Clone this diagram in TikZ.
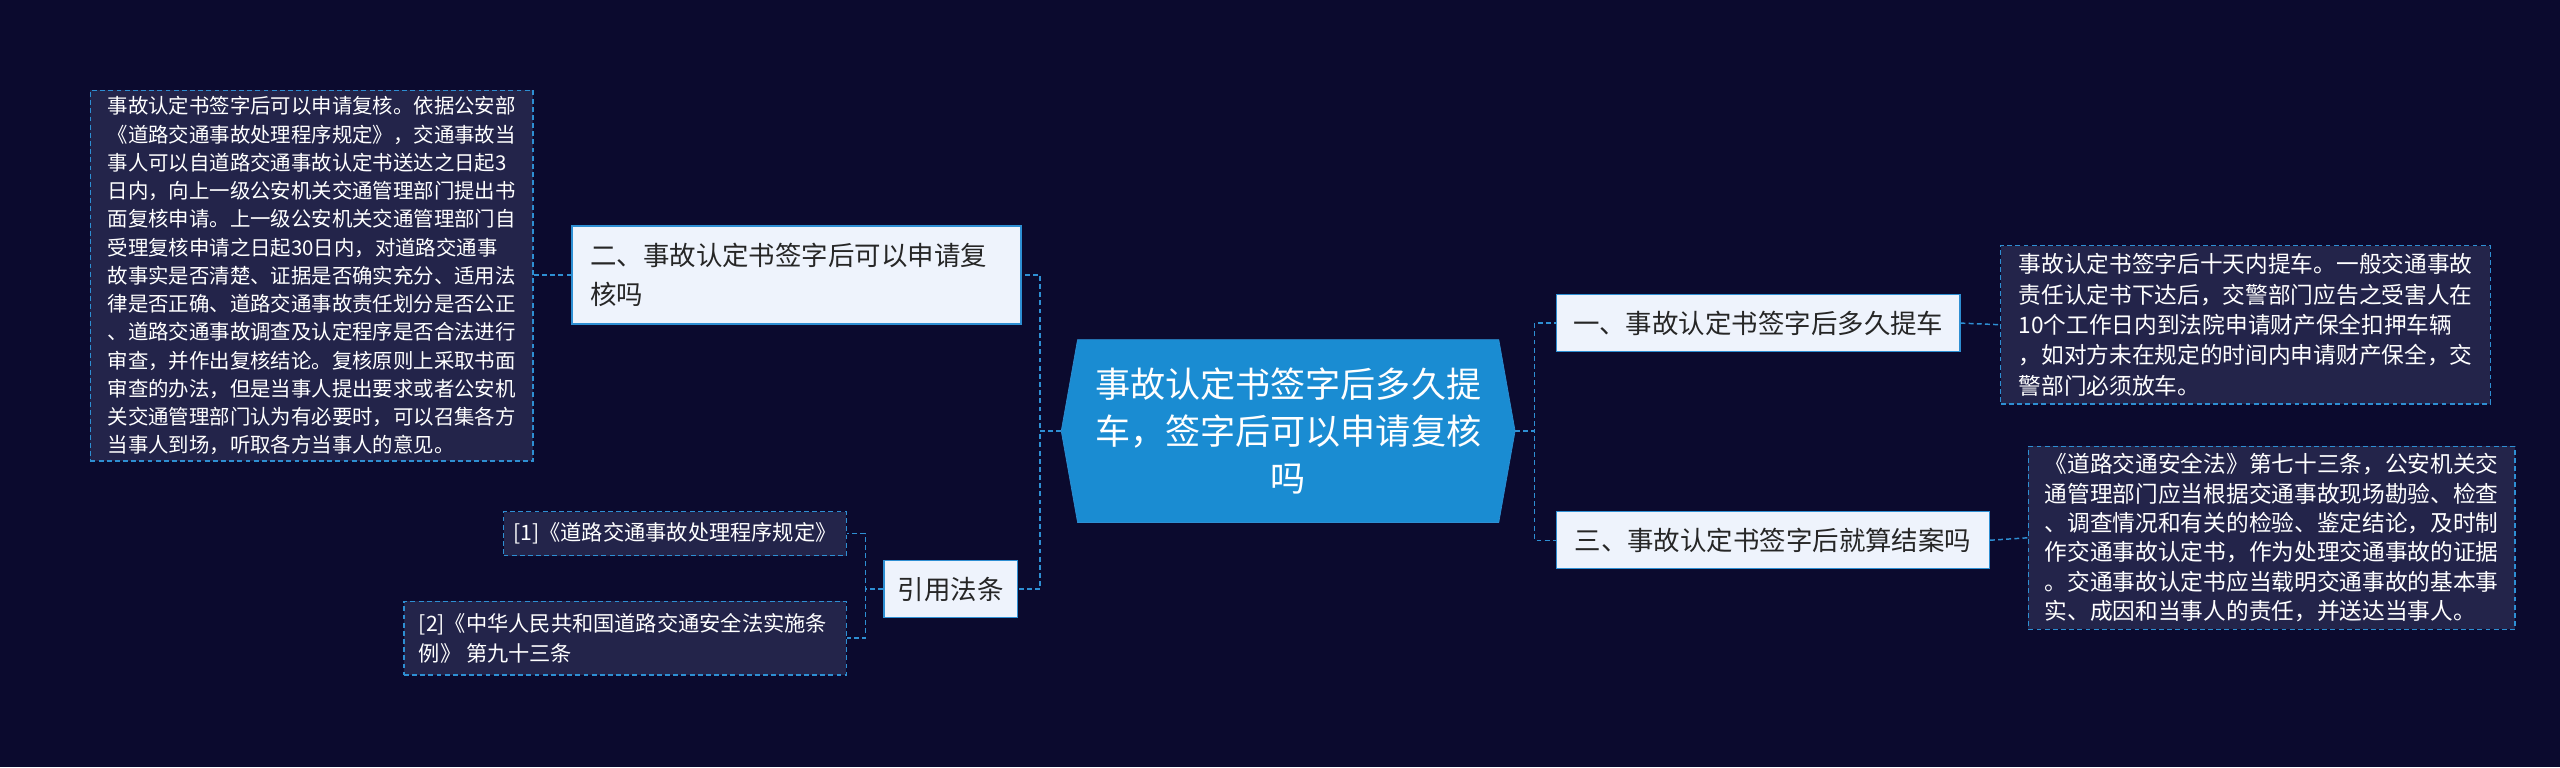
\documentclass[tikz,border=0pt]{standalone}
\usepackage{fontspec}
\setmainfont{Noto Sans CJK SC}
\begin{document}
\begin{tikzpicture}[x=1pt,y=-1pt,
  lk/.style={draw=lkc,dashed,line width=0.9pt,dash pattern=on 3pt off 2pt},
  mid/.style={draw=lkc,line width=0.8pt,fill=midfill,text=black!85,font=\fontsize{15}{22}\selectfont,inner sep=0pt,anchor=north west,align=left},
  leaf/.style={draw=lkc,dashed,dash pattern=on 3pt off 2pt,line width=0.8pt,fill=leaffill,text=white,font=\fontsize{12.3}{17.6}\selectfont,inner sep=0pt,anchor=north west,align=left}]
\definecolor{bg}{HTML}{0B0A2E}
\definecolor{lkc}{HTML}{2E8FD3}
\definecolor{midfill}{HTML}{EEF3FC}
\definecolor{leaffill}{HTML}{23244A}
\definecolor{ctr}{HTML}{1A8CD2}
\fill[bg] (0,0) rectangle (1568,470);
\useasboundingbox (0,0) rectangle (1568,470);
% center
\fill[ctr,draw=lkc] (660,208)--(918,208)--(928,264)--(918,320)--(660,320)--(650,264)--cycle;
\node[text=white,align=center,font=\fontsize{21.5}{29}\selectfont] (c) at (789,264) {事故认定书签字后多久提\\车，签字后可以申请复核\\吗};
\coordinate (cr) at (928,264); \coordinate (cl) at (650,264);
% mid boxes
\path (953,180) node[mid,minimum width=247,minimum height=35] (r1) {};
\node[text=black!85,font=\fontsize{16.2}{22}\selectfont] at (r1.center) {一、事故认定书签字后多久提车};
\path (953,313) node[mid,minimum width=265,minimum height=35] (r2) {};
\node[text=black!85,font=\fontsize{16.2}{22}\selectfont] at (r2.center) {三、事故认定书签字后就算结案吗};
\path (350,138) node[mid,minimum width=275,minimum height=60] (l1) {};
\node[text=black!85,font=\fontsize{16.2}{24}\selectfont,align=left,anchor=west] at ([xshift=8]l1.west) {二、事故认定书签字后可以申请复\\核吗};
\path (541,343) node[mid,minimum width=82,minimum height=35] (l2) {};
\node[text=black!85,font=\fontsize{16.2}{22}\selectfont] at (l2.center) {引用法条};
% leaves
\path (1225,150) node[leaf,minimum width=300,minimum height=97] (r1a) {};
\node[text=white,font=\fontsize{13.9}{18.6}\selectfont,align=left] at (r1a.center) {事故认定书签字后十天内提车。一般交通事故\\责任认定书下达后，交警部门应告之受害人在\\10个工作日内到法院申请财产保全扣押车辆\\，如对方未在规定的时间内申请财产保全，交\\警部门必须放车。};
\path (1242,273) node[leaf,minimum width=298,minimum height=112] (r2a) {};
\node[text=white,font=\fontsize{13.9}{18}\selectfont,align=left] at (r2a.center) {《道路交通安全法》第七十三条，公安机关交\\通管理部门应当根据交通事故现场勘验、检查\\、调查情况和有关的检验、鉴定结论，及时制\\作交通事故认定书，作为处理交通事故的证据\\。交通事故认定书应当载明交通事故的基本事\\实、成因和当事人的责任，并送达当事人。};
\path (55,55) node[leaf,minimum width=271,minimum height=227] (l1a) {};
\node[text=white,font=\fontsize{12.5}{17.3}\selectfont,align=left] at (l1a.center) {事故认定书签字后可以申请复核。依据公安部\\《道路交通事故处理程序规定》，交通事故当\\事人可以自道路交通事故认定书送达之日起3\\日内，向上一级公安机关交通管理部门提出书\\面复核申请。上一级公安机关交通管理部门自\\受理复核申请之日起30日内，对道路交通事\\故事实是否清楚、证据是否确实充分、适用法\\律是否正确、道路交通事故责任划分是否公正\\、道路交通事故调查及认定程序是否合法进行\\审查，并作出复核结论。复核原则上采取书面\\审查的办法，但是当事人提出要求或者公安机\\关交通管理部门认为有必要时，可以召集各方\\当事人到场，听取各方当事人的意见。};
\path (308,313) node[leaf,minimum width=210,minimum height=27] (l2a) {};
\node[text=white,font=\fontsize{13}{18}\selectfont] at (l2a.center) {[1]《道路交通事故处理程序规定》};
\path (247,368) node[leaf,minimum width=271,minimum height=45] (l2b) {};
\node[text=white,font=\fontsize{13}{18}\selectfont,align=left,anchor=west] at ([xshift=6]l2b.west) {[2]《中华人民共和国道路交通安全法实施条\\例》 第九十三条};
% connectors
\draw[lk] (cr) -- ++(12,0) |- (r1.west);
\draw[lk] (cr) -- ++(12,0) |- (r2.west);
\draw[lk] (cl) -- ++(-13,0) |- (l1.east);
\draw[lk] (cl) -- ++(-13,0) |- (l2.east);
\draw[lk] (r1.east) -- (r1a.west);
\draw[lk] (r2.east) -- (r2a.west);
\draw[lk] (l1.west) -- (l1a.east |- l1.west);
\draw[lk] (l2.west) -- ++(-11,0) |- (l2a.east);
\draw[lk] (l2.west) -- ++(-11,0) |- (l2b.east);
\end{tikzpicture}
\end{document}
